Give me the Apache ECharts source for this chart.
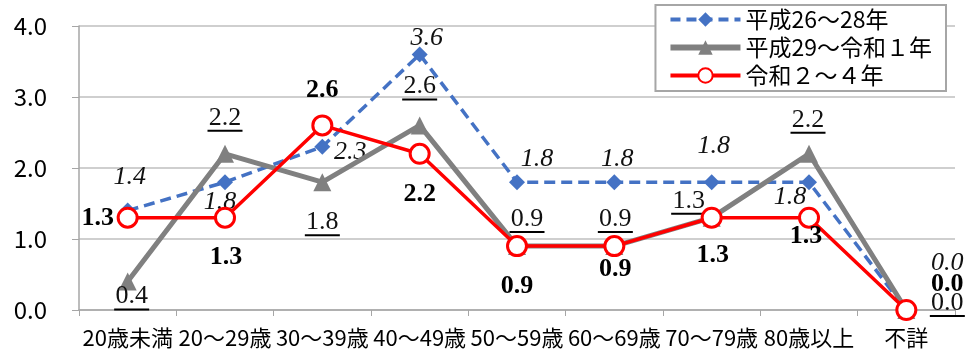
<!DOCTYPE html>
<html>
<head>
<meta charset="utf-8">
<script src="https://cdn.jsdelivr.net/npm/echarts@6/dist/echarts.min.js"></script>
<style>
  html, body { margin: 0; padding: 0; background: #fff; }
  #chart { width: 971px; height: 359px; }
</style>
</head>
<body>
<div id="chart"></div>
<script>
// Age groups on the x axis
const categories = ['20歳未満', '20～29歳', '30～39歳', '40～49歳', '50～59歳', '60～69歳', '70～79歳', '80歳以上', '不詳'];
// Series names
const seriesNames = ['平成26～28年', '平成29～令和１年', '令和２～４年'];
// Values per period
const valuesH26 = [1.4, 1.8, 2.3, 3.6, 1.8, 1.8, 1.8, 1.8, 0.0];
const valuesH29 = [0.4, 2.2, 1.8, 2.6, 0.9, 0.9, 1.3, 2.2, 0.0];
const valuesR2  = [1.3, 1.3, 2.6, 2.2, 0.9, 0.9, 1.3, 1.3, 0.0];
// Y axis ticks
const yTicks = [0, 1, 2, 3, 4];

// Label offsets (label centre relative to its point), one list per series
const offsH26 = [[2,-33],[-5,20],[28,5],[7,-16],[20,-23],[3,-23],[2,-36],[-19,15],[41,-47]];
const offsH29 = [[4,16],[0,-35],[0,41],[0,-38],[10,-26],[1,-26],[-23,-16],[-1,-33],[41,-6]];
const offsR2  = [[-30,1],[1,40],[0,-35],[0,40],[0,40],[1,23],[1,38],[-3,19],[41,-26]];

const labelFont = '"Liberation Serif", "DejaVu Serif", serif';
const cjkFont = '"Noto Sans CJK JP", "Noto Sans", sans-serif';
const fmt = v => v.toFixed(1);

const colors = { h26: '#4472c4', h29: '#808080', r2: '#ff0000' };

function buildData(values, offsets, labelExtra) {
  return values.map((v, i) => ({
    value: v,
    label: Object.assign({ show: true, position: 'inside', offset: offsets[i] }, labelExtra)
  }));
}

const chart = echarts.init(document.getElementById('chart'));
chart.setOption({
  animation: false,
  grid: { left: 79, right: 16, top: 26, bottom: 49 },
  legend: {
    data: [
      { name: seriesNames[0], lineStyle: { width: 4, type: [10, 6] } },
      { name: seriesNames[1], lineStyle: { width: 6 } },
      { name: seriesNames[2], lineStyle: { width: 4 } }
    ],
    orient: 'vertical',
    right: 25,
    top: 5,
    backgroundColor: '#fff',
    borderColor: '#a6a6a6',
    borderWidth: 2,
    borderRadius: 0,
    padding: [3, 14, 4, 12],
    itemWidth: 70,
    itemHeight: 18,
    itemGap: 5,
    textStyle: { fontSize: 23, lineHeight: 23, fontFamily: cjkFont, color: '#000' }
  },
  xAxis: {
    type: 'category',
    data: categories,
    boundaryGap: true,
    axisLine: { lineStyle: { color: '#a6a6a6', width: 1.5 } },
    axisTick: { show: true, length: 6, alignWithLabel: false, lineStyle: { color: '#a6a6a6' } },
    axisLabel: { interval: 0, margin: 17, fontSize: 22, fontFamily: cjkFont, color: '#000' }
  },
  yAxis: {
    type: 'value',
    min: yTicks[0],
    max: yTicks[yTicks.length - 1],
    interval: 1,
    axisLine: { show: true, lineStyle: { color: '#a6a6a6', width: 1.5 } },
    axisTick: { show: true, length: 7, lineStyle: { color: '#a6a6a6' } },
    splitLine: { lineStyle: { color: '#bfbfbf', width: 1.5 } },
    axisLabel: { margin: 32, fontSize: 24, fontFamily: cjkFont, color: '#000', formatter: fmt }
  },
  series: [
    {
      name: seriesNames[0],
      type: 'line',
      data: buildData(valuesH26, offsH26, {
        formatter: p => fmt(p.value),
        fontFamily: labelFont, fontStyle: 'italic', fontSize: 26, color: '#111'
      }),
      symbol: 'diamond',
      symbolSize: 16,
      itemStyle: { color: colors.h26 },
      lineStyle: { color: colors.h26, width: 3.5, type: [11, 6] },
      z: 2
    },
    {
      name: seriesNames[1],
      type: 'line',
      data: buildData(valuesH29, offsH29, {
        formatter: p => '{t|' + fmt(p.value) + '}\n{u|}',
        rich: {
          t: { fontFamily: labelFont, fontSize: 26, color: '#111', lineHeight: 24, align: 'center' },
          u: { width: 35, height: 2, lineHeight: 2, backgroundColor: '#000', align: 'center' }
        }
      }),
      symbol: 'triangle',
      symbolSize: 18,
      itemStyle: { color: colors.h29 },
      lineStyle: { color: colors.h29, width: 5 },
      z: 3
    },
    {
      name: seriesNames[2],
      type: 'line',
      data: buildData(valuesR2, offsR2, {
        formatter: p => fmt(p.value),
        fontFamily: labelFont, fontWeight: 'bold', fontSize: 26, color: '#000'
      }),
      symbol: 'circle',
      symbolSize: 19,
      showAllSymbol: true,
      itemStyle: { color: '#fff', borderColor: colors.r2, borderWidth: 3 },
      lineStyle: { color: colors.r2, width: 3.5 },
      z: 4
    }
  ]
});
</script>
</body>
</html>
